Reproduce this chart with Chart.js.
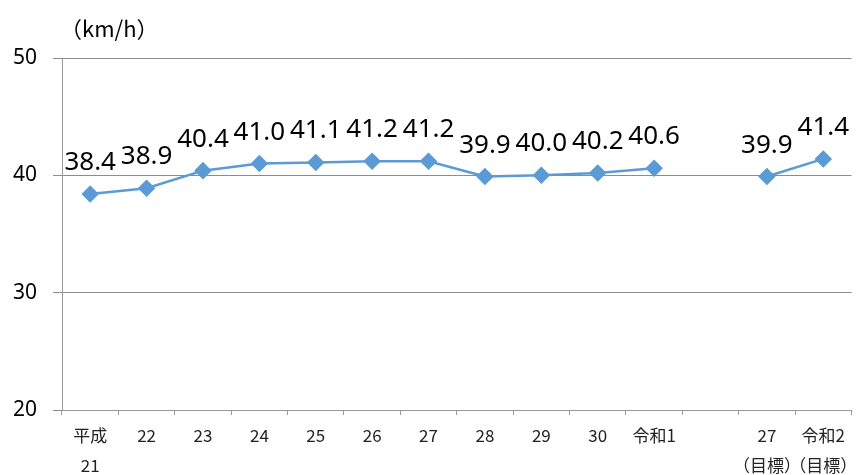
<!DOCTYPE html>
<html><head><meta charset="utf-8">
<script src="https://cdn.jsdelivr.net/npm/chart.js@4/dist/chart.umd.min.js"></script>
<style>html,body{margin:0;padding:0;background:#fff}#wrap{width:861px;height:475px}</style>
</head><body><div id="wrap"><canvas id="c" width="861" height="475"></canvas></div>
<script>
const categories = [["平成","21"],"22","23","24","25","26","27","28","29","30","令和1","",["27","（目標）"],["令和2","（目標）"]];
const speeds = [38.4,38.9,40.4,41.0,41.1,41.2,41.2,39.9,40.0,40.2,40.6,null,39.9,41.4];
const yTicks = [20,30,40,50];
const unitLabel = "（km/h）";

const labelPlugin = {
  id:'labels',
  afterDatasetsDraw(chart){
    const ctx = chart.ctx;
    const meta = chart.getDatasetMeta(0);
    ctx.save();
    ctx.font = '26px "Noto Sans", sans-serif';
    ctx.fillStyle = '#000';
    ctx.textAlign = 'center';
    ctx.textBaseline = 'alphabetic';
    meta.data.forEach((pt,i)=>{
      const v = speeds[i];
      if (v===null) return;
      ctx.fillText(v.toFixed(1), pt.x, pt.y - 24);
    });
    ctx.font = '22px "Noto Sans CJK JP", sans-serif';
    ctx.textAlign = 'left';
    ctx.fillText(unitLabel, 60, 37);
    ctx.restore();
  }
};

new Chart(document.getElementById('c'), {
  type:'line',
  data:{labels:categories, datasets:[{
    data:speeds, borderColor:'#5B9BD5', backgroundColor:'#5B9BD5',
    borderWidth:2.5, pointStyle:'rectRot', pointRadius:7, pointHoverRadius:7,
    spanGaps:false, tension:0
  }]},
  options:{
    responsive:false, animation:false,
    layout:{padding:{left:0,right:8,top:58,bottom:0}},
    plugins:{legend:{display:false}, tooltip:{enabled:false}},
    scales:{
      x:{
        offset:true,
        grid:{offset:true, drawOnChartArea:false, drawTicks:true, tickLength:5, color:'#9a9a9a'},
        border:{display:true, color:'#9a9a9a', width:1},
        ticks:{autoSkip:false, maxRotation:0, color:'#222', padding:6,
          font:{family:'"Noto Sans CJK JP", sans-serif', size:17, lineHeight:1.75}},
        afterFit(s){ s.height = 65; s.paddingLeft = 0; s.paddingRight = 0; }
      },
      y:{
        min:20, max:50,
        afterBuildTicks(s){ s.ticks = yTicks.map(v=>({value:v})); },
        grid:{color:'#8c8c8c', tickLength:9, lineWidth:1},
        border:{display:true, color:'#9a9a9a'},
        ticks:{color:'#000', padding:16, font:{family:'"Noto Sans", sans-serif', size:21}},
        afterFit(s){ s.width = 62; s.paddingTop = 0; s.paddingBottom = 0; }
      }
    }
  },
  plugins:[labelPlugin]
});
</script></body></html>
